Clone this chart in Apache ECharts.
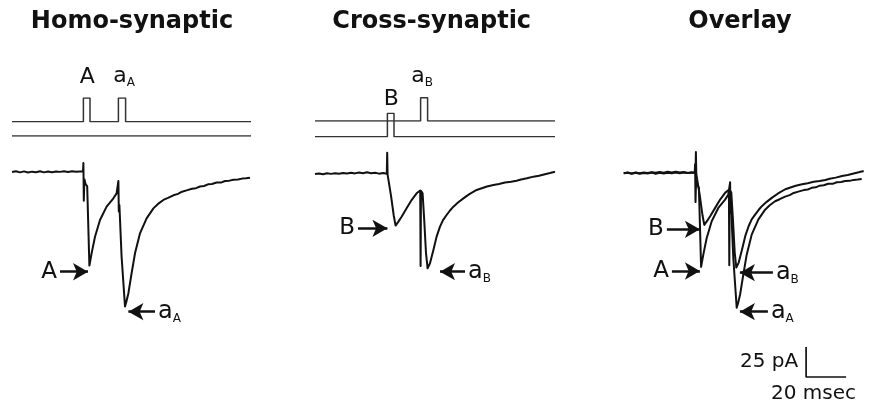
<!DOCTYPE html>
<html>
<head>
<meta charset="utf-8">
<title>Paired-pulse EPSCs</title>
<script src="https://cdn.jsdelivr.net/npm/echarts@6/dist/echarts.min.js"></script>
<style>
  html, body { margin: 0; padding: 0; background: #ffffff; }
  #chart { width: 869px; height: 406px; }
</style>
</head>
<body>
<div id="chart"></div>
<script>
// ---- data: time in ms, current in pA ----
const panelTitles = ['Homo-synaptic', 'Cross-synaptic', 'Overlay'];

// EPSC evoked by pulse A followed by a second pulse on pathway A
const traceHomo = [
  [0, 0], [2, 0.6], [4, -0.3], [6, 0.5], [8, -0.4], [10, 0.3], [12, -0.2], [14, 0.6], [16, -0.3],
  [18, 0.4], [20, -0.2], [22, 0.5], [24, 0.1], [26, 0.6], [28, 0.0], [30, 0.7], [32, 0.2], [34, 0.5], [35.5, 0.4],
  [35.7, 7.5], [35.9, -24], [36.2, -6], [36.8, -10], [37.6, -12],
  [38.7, -78], [39.8, -67.8], [41.5, -53.9], [44, -40], [47.3, -28.9], [50.7, -21.9], [52.3, -17.8], [53.0, -16.5],
  [53.2, -7.5], [53.4, -33], [53.7, -27.5], [54.8, -70.6], [56.5, -112],
  [57.2, -108], [58.2, -101], [59.8, -84.4], [61.5, -67.8], [64, -51.1], [67.3, -38.6], [70.7, -30.3],
  [73, -26.6], [75.7, -23.3], [78, -21.6], [80.7, -19.4], [83, -18.2], [85, -16.4], [87.3, -15.3],
  [90, -14.0], [92, -13.5], [94, -12.1], [96, -11.7], [98, -10.3], [100, -10.0], [102.3, -8.7],
  [104.5, -8.8], [106.5, -7.5], [108.7, -7.2], [110.7, -6.4], [113, -6.3], [115, -5.5], [117, -5.2], [119, -4.7]
];

// EPSC evoked by pulse B followed by a pulse on pathway A
const traceCross = [
  [0, 0], [2, 0.5], [4, -0.2], [6, 0.6], [8, 0.1], [10, 0.7], [12, 0.2], [14, 0.9], [16, 0.4],
  [18, 1.0], [20, 0.5], [22, 1.3], [24, 0.7], [26, 1.4], [28, 0.6], [30, 1.0], [32, 0.3], [34, 0.8], [35.9, 0.2],
  [36.1, 17.8], [36.3, -0.5], [36.7, -2],
  [38, -18], [39.4, -35], [40.3, -43], [41.7, -39.7], [43.3, -35.6], [45.8, -28.6], [48.3, -21.7], [50.8, -16.1], [52.6, -13.8],
  [52.8, -76.7], [53.0, -14], [53.8, -16], [54.6, -38], [55.5, -66], [56.3, -78.6],
  [57.5, -74.4], [59.2, -63.3], [60.8, -52.2], [62.5, -43.9], [64, -38.4], [65.8, -34.2], [67.5, -30.4], [69.2, -27.2],
  [71.5, -23.8], [74.2, -20.3], [77, -17.0], [80.8, -13.3], [83, -12.1], [86, -10.4], [89.2, -9.2],
  [92, -8.3], [95, -7.1], [98, -6.4], [100.8, -5.6], [103, -4.6], [106, -3.6], [109.2, -2.2],
  [112, -1.4], [115, -0.2], [117.5, 0.8], [120, 1.9]
];

// stimulus command traces (0 = baseline, 1 = pulse)
const stimHomoPathA = [[0, 0], [35.7, 0], [35.7, 1], [39.0, 1], [39.0, 0], [53.2, 0], [53.2, 1], [56.8, 1], [56.8, 0], [119.5, 0]];
const stimHomoPathB = [[0, 0], [119.5, 0]];
const stimCrossPathA = [[0, 0], [52.8, 0], [52.8, 1], [56.3, 1], [56.3, 0], [120, 0]];
const stimCrossPathB = [[0, 0], [36.2, 0], [36.2, 1], [39.5, 1], [39.5, 0], [120, 0]];

// pulse labels: [time, main text, subscript]
const stimLabelsHomo = [[37.6, 'A', ''], [56.0, 'a', 'A']];
const stimLabelsCross = [[38.2, 'B', ''], [53.6, 'a', 'B']];

// response arrows: [tail time, tip time, current, main text, subscript]
const arrowsHomo = [[24, 38, -83.1, 'A', ''], [71.5, 58.2, -116.4, 'a', 'A']];
const arrowsCross = [[21.5, 36.2, -45.3, 'B', ''], [75, 62.5, -81.4, 'a', 'B']];
const arrowsOverlay = [
  [21.6, 38.1, -46.7, 'B', ''], [24.1, 38.1, -81.4, 'A', ''],
  [74.6, 58.1, -82.8, 'a', 'B'], [72.1, 58.1, -115.3, 'a', 'A']
];

// calibration bar
const scaleBarPA = 25;
const scaleBarMs = 20;

// ---- layout ----
const FONT = 'DejaVu Sans';
const INK = '#111111';
const panelLeft = [12, 315, 623.7];
const baselineY = [172, 174, 173.3];
const PX_PER_PA = 1.2;
const PA_MAX = 25, PA_MIN = -190;
const TRACE_W = 240;

const grids = [];
const xAxes = [];
const yAxes = [];
function addGrid(left, top, height, ymin, ymax) {
  grids.push({ left: left, top: top, width: TRACE_W, height: height, containLabel: false });
  const i = grids.length - 1;
  xAxes.push({ gridIndex: i, type: 'value', min: 0, max: 120, show: false });
  yAxes.push({ gridIndex: i, type: 'value', min: ymin, max: ymax, show: false });
  return i;
}
const currentH = (PA_MAX - PA_MIN) * PX_PER_PA;
const gHomo = addGrid(panelLeft[0], baselineY[0] - PA_MAX * PX_PER_PA, currentH, PA_MIN, PA_MAX);
const gHomoA = addGrid(panelLeft[0], 98, 23.7, 0, 1);
const gHomoB = addGrid(panelLeft[0], 112.5, 23.5, 0, 1);
const gCross = addGrid(panelLeft[1], baselineY[1] - PA_MAX * PX_PER_PA, currentH, PA_MIN, PA_MAX);
const gCrossA = addGrid(panelLeft[1], 97.7, 23.3, 0, 1);
const gCrossB = addGrid(panelLeft[1], 113.3, 23.4, 0, 1);
const gOver = addGrid(panelLeft[2], baselineY[2] - PA_MAX * PX_PER_PA, currentH, PA_MIN, PA_MAX);

const richStyles = {
  m: { fontFamily: FONT, fontSize: 23, color: INK, lineHeight: 24 },
  a: { fontFamily: FONT, fontSize: 24, color: INK, lineHeight: 27 },
  s: { fontFamily: FONT, fontSize: 12, color: INK, lineHeight: 8, verticalAlign: 'bottom' }
};
const stimRich = {
  m: { fontFamily: FONT, fontSize: 22, color: INK, lineHeight: 22 },
  a: { fontFamily: FONT, fontSize: 22, color: INK, lineHeight: 25 },
  s: { fontFamily: FONT, fontSize: 12, color: INK, lineHeight: 8, verticalAlign: 'bottom' }
};
function labelText(main, sub) {
  return sub ? '{a|' + main + '}{s|' + sub + '}' : '{m|' + main + '}';
}

function stimSeries(g, data, labels, dists) {
  const s = {
    type: 'line', xAxisIndex: g, yAxisIndex: g, data: data,
    showSymbol: false, silent: true, animation: false,
    lineStyle: { color: '#333333', width: 1.5 }
  };
  if (labels) {
    s.markPoint = {
      symbol: 'circle', symbolSize: 0, silent: true, animation: false,
      data: labels.map((l, i) => ({
        coord: [l[0], 1],
        label: { show: true, position: 'top', distance: dists[i], formatter: labelText(l[1], l[2]), rich: stimRich }
      }))
    };
  }
  return s;
}

function traceSeries(g, data, arrows) {
  const s = {
    type: 'line', xAxisIndex: g, yAxisIndex: g, data: data,
    showSymbol: false, silent: true, animation: false, clip: false,
    lineStyle: { color: INK, width: 2, join: 'round' }
  };
  if (arrows) {
    s.markLine = {
      silent: true, animation: false,
      symbol: ['none', 'arrow'], symbolSize: [13, 15],
      lineStyle: { color: INK, width: 2.5, type: 'solid' },
      data: arrows.map(a => [
        { coord: [a[0], a[2]], label: { show: true, position: 'start', distance: 3, formatter: labelText(a[3], a[4]), rich: richStyles } },
        { coord: [a[1], a[2]] }
      ])
    };
  }
  return s;
}

// calibration bar drawn in the overlay coordinate system
const barT0 = 91.2, barPA0 = -169.75;
const scaleBarData = [[barT0, barPA0 + scaleBarPA], [barT0, barPA0], [barT0 + scaleBarMs, barPA0]];
const barLabelStyle = { show: true, fontFamily: FONT, fontSize: 20, color: INK, fontWeight: 'normal' };

const series = [
  stimSeries(gHomoA, stimHomoPathA, stimLabelsHomo, [10, 9]),
  stimSeries(gHomoB, stimHomoPathB),
  traceSeries(gHomo, traceHomo, arrowsHomo),
  stimSeries(gCrossA, stimCrossPathA, [stimLabelsCross[1]], [9]),
  stimSeries(gCrossB, stimCrossPathB, [stimLabelsCross[0]], [3]),
  traceSeries(gCross, traceCross, arrowsCross),
  traceSeries(gOver, traceHomo, null),
  traceSeries(gOver, traceCross, arrowsOverlay),
  {
    type: 'line', xAxisIndex: gOver, yAxisIndex: gOver, data: scaleBarData,
    showSymbol: false, silent: true, animation: false, clip: false,
    lineStyle: { color: INK, width: 1.7 }
  },
  {
    type: 'scatter', xAxisIndex: gOver, yAxisIndex: gOver, symbolSize: 0, silent: true, animation: false, clip: false,
    itemStyle: { color: INK, opacity: 1 },
    data: [
      { value: [barT0, barPA0 + scaleBarPA / 2], label: Object.assign({ position: 'left', distance: 8, formatter: scaleBarPA + ' pA' }, barLabelStyle) },
      { value: [barT0 + 3.7, barPA0 - 14.2], label: Object.assign({ position: 'inside', formatter: scaleBarMs + ' msec' }, barLabelStyle) }
    ]
  }
];

const titleCenters = [132, 431.7, 740];
const option = {
  backgroundColor: '#ffffff',
  animation: false,
  title: panelTitles.map((t, i) => ({
    text: t, left: titleCenters[i], top: 10, textAlign: 'center', padding: 0,
    textStyle: { fontFamily: FONT, fontWeight: 'bold', fontSize: 24, color: INK }
  })),
  grid: grids,
  xAxis: xAxes,
  yAxis: yAxes,
  series: series
};

const chart = echarts.init(document.getElementById('chart'), null, { renderer: 'canvas' });
chart.setOption(option);
</script>
</body>
</html>
